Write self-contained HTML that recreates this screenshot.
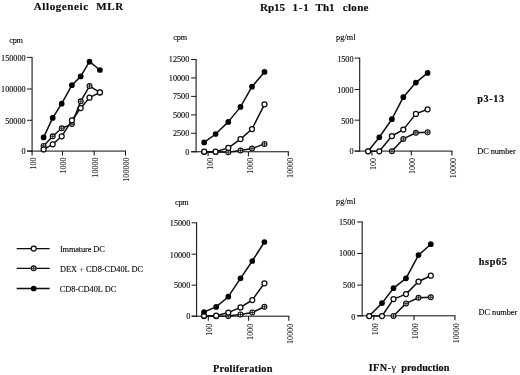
<!DOCTYPE html>
<html><head><meta charset="utf-8"><title>Figure</title>
<style>
html,body{margin:0;padding:0;background:#fff;}
body{width:520px;height:375px;overflow:hidden;}
svg{display:block;}
svg text{font-family:'Liberation Serif',serif;}
</style></head>
<body>
<svg width="520" height="375" viewBox="0 0 520 375">
<defs><filter id="b" x="0" y="0" width="520" height="375" filterUnits="userSpaceOnUse"><feGaussianBlur stdDeviation="0.25"/></filter></defs>
<rect x="0" y="0" width="520" height="375" fill="#ffffff"/>
<g filter="url(#b)">
<line x1="32.1" y1="56.9" x2="32.1" y2="151.6" stroke="#0d0d0d" stroke-width="1.05"/>
<line x1="27.1" y1="57.4" x2="32.1" y2="57.4" stroke="#0d0d0d" stroke-width="0.95"/>
<text x="25.6" y="60.7" text-anchor="end" style="font-size:8.2px;stroke:#0a0a0a;stroke-width:0.12px;" fill="#0a0a0a" xml:space="preserve">150000</text>
<line x1="27.1" y1="89" x2="32.1" y2="89" stroke="#0d0d0d" stroke-width="0.95"/>
<text x="25.6" y="92.3" text-anchor="end" style="font-size:8.2px;stroke:#0a0a0a;stroke-width:0.12px;" fill="#0a0a0a" xml:space="preserve">100000</text>
<line x1="27.1" y1="120.3" x2="32.1" y2="120.3" stroke="#0d0d0d" stroke-width="0.95"/>
<text x="25.6" y="123.6" text-anchor="end" style="font-size:8.2px;stroke:#0a0a0a;stroke-width:0.12px;" fill="#0a0a0a" xml:space="preserve">50000</text>
<line x1="27.1" y1="151.1" x2="32.1" y2="151.1" stroke="#0d0d0d" stroke-width="0.95"/>
<text x="25.6" y="154.4" text-anchor="end" style="font-size:8.2px;stroke:#0a0a0a;stroke-width:0.12px;" fill="#0a0a0a" xml:space="preserve">0</text>
<line x1="27.1" y1="151.1" x2="126.0" y2="151.1" stroke="#0d0d0d" stroke-width="1.0"/>
<line x1="32.1" y1="151.1" x2="32.1" y2="155.6" stroke="#0d0d0d" stroke-width="1.05"/>
<text transform="translate(36,157.4) rotate(-90) scale(1,0.93)" text-anchor="end" style="font-size:8.1px;stroke:#0a0a0a;stroke-width:0.1px;" fill="#0a0a0a" xml:space="preserve">100</text>
<line x1="62.5" y1="151.1" x2="62.5" y2="155.6" stroke="#0d0d0d" stroke-width="1.05"/>
<text transform="translate(66.4,157.4) rotate(-90) scale(1,0.93)" text-anchor="end" style="font-size:8.1px;stroke:#0a0a0a;stroke-width:0.1px;" fill="#0a0a0a" xml:space="preserve">1000</text>
<line x1="94.2" y1="151.1" x2="94.2" y2="155.6" stroke="#0d0d0d" stroke-width="1.05"/>
<text transform="translate(98.1,157.4) rotate(-90) scale(1,0.93)" text-anchor="end" style="font-size:8.1px;stroke:#0a0a0a;stroke-width:0.1px;" fill="#0a0a0a" xml:space="preserve">10000</text>
<line x1="125.5" y1="151.1" x2="125.5" y2="155.6" stroke="#0d0d0d" stroke-width="1.05"/>
<text transform="translate(129.4,157.4) rotate(-90) scale(1,0.93)" text-anchor="end" style="font-size:8.1px;stroke:#0a0a0a;stroke-width:0.1px;" fill="#0a0a0a" xml:space="preserve">100000</text>
<text x="9.3" y="42.7" textLength="13.6" lengthAdjust="spacing" text-anchor="start" style="font-size:8.2px;stroke:#0a0a0a;stroke-width:0.12px;" fill="#0a0a0a" xml:space="preserve">cpm</text>
<polyline points="43.6,145.9 52.7,136.3 61.7,128.3 71.9,124.1 80.7,101.3 89.5,86.1 99.9,92.4" fill="none" stroke="#111" stroke-width="1.5" stroke-linejoin="round"/>
<circle cx="43.6" cy="145.9" r="2.45" fill="#e6e6e6" stroke="#0c0c0c" stroke-width="1.1"/>
<line x1="41.15" y1="145.9" x2="46.05" y2="145.9" stroke="#222" stroke-width="0.9"/>
<line x1="43.6" y1="143.45" x2="43.6" y2="148.35" stroke="#222" stroke-width="0.9"/>
<circle cx="52.7" cy="136.3" r="2.45" fill="#e6e6e6" stroke="#0c0c0c" stroke-width="1.1"/>
<line x1="50.25" y1="136.3" x2="55.15" y2="136.3" stroke="#222" stroke-width="0.9"/>
<line x1="52.7" y1="133.85" x2="52.7" y2="138.75" stroke="#222" stroke-width="0.9"/>
<circle cx="61.7" cy="128.3" r="2.45" fill="#e6e6e6" stroke="#0c0c0c" stroke-width="1.1"/>
<line x1="59.25" y1="128.3" x2="64.15" y2="128.3" stroke="#222" stroke-width="0.9"/>
<line x1="61.7" y1="125.85" x2="61.7" y2="130.75" stroke="#222" stroke-width="0.9"/>
<circle cx="71.9" cy="124.1" r="2.45" fill="#e6e6e6" stroke="#0c0c0c" stroke-width="1.1"/>
<line x1="69.45" y1="124.1" x2="74.35" y2="124.1" stroke="#222" stroke-width="0.9"/>
<line x1="71.9" y1="121.65" x2="71.9" y2="126.55" stroke="#222" stroke-width="0.9"/>
<circle cx="80.7" cy="101.3" r="2.45" fill="#e6e6e6" stroke="#0c0c0c" stroke-width="1.1"/>
<line x1="78.25" y1="101.3" x2="83.15" y2="101.3" stroke="#222" stroke-width="0.9"/>
<line x1="80.7" y1="98.85" x2="80.7" y2="103.75" stroke="#222" stroke-width="0.9"/>
<circle cx="89.5" cy="86.1" r="2.45" fill="#e6e6e6" stroke="#0c0c0c" stroke-width="1.1"/>
<line x1="87.05" y1="86.1" x2="91.95" y2="86.1" stroke="#222" stroke-width="0.9"/>
<line x1="89.5" y1="83.65" x2="89.5" y2="88.55" stroke="#222" stroke-width="0.9"/>
<circle cx="99.9" cy="92.4" r="2.45" fill="#e6e6e6" stroke="#0c0c0c" stroke-width="1.1"/>
<line x1="97.45" y1="92.4" x2="102.35" y2="92.4" stroke="#222" stroke-width="0.9"/>
<line x1="99.9" y1="89.95" x2="99.9" y2="94.85" stroke="#222" stroke-width="0.9"/>
<polyline points="43.6,149.4 52.7,144.3 61.7,136.3 71.9,120.3 80.7,108 89.5,97.7 99.9,92.4" fill="none" stroke="#111" stroke-width="1.5" stroke-linejoin="round"/>
<circle cx="43.6" cy="149.4" r="2.5" fill="#fff" stroke="#0a0a0a" stroke-width="1.25"/>
<circle cx="52.7" cy="144.3" r="2.5" fill="#fff" stroke="#0a0a0a" stroke-width="1.25"/>
<circle cx="61.7" cy="136.3" r="2.5" fill="#fff" stroke="#0a0a0a" stroke-width="1.25"/>
<circle cx="71.9" cy="120.3" r="2.5" fill="#fff" stroke="#0a0a0a" stroke-width="1.25"/>
<circle cx="80.7" cy="108" r="2.5" fill="#fff" stroke="#0a0a0a" stroke-width="1.25"/>
<circle cx="89.5" cy="97.7" r="2.5" fill="#fff" stroke="#0a0a0a" stroke-width="1.25"/>
<circle cx="99.9" cy="92.4" r="2.5" fill="#fff" stroke="#0a0a0a" stroke-width="1.25"/>
<polyline points="43.6,137.4 52.7,117.9 61.7,103.7 71.9,85.2 80.7,76.4 89.5,61.7 99.9,70" fill="none" stroke="#111" stroke-width="1.5" stroke-linejoin="round"/>
<circle cx="43.6" cy="137.4" r="2.85" fill="#050505"/>
<circle cx="52.7" cy="117.9" r="2.85" fill="#050505"/>
<circle cx="61.7" cy="103.7" r="2.85" fill="#050505"/>
<circle cx="71.9" cy="85.2" r="2.85" fill="#050505"/>
<circle cx="80.7" cy="76.4" r="2.85" fill="#050505"/>
<circle cx="89.5" cy="61.7" r="2.85" fill="#050505"/>
<circle cx="99.9" cy="70" r="2.85" fill="#050505"/>
<line x1="196.1" y1="59.0" x2="196.1" y2="152.25" stroke="#0d0d0d" stroke-width="1.05"/>
<line x1="191.1" y1="59.5" x2="196.1" y2="59.5" stroke="#0d0d0d" stroke-width="0.95"/>
<text x="189.3" y="62.4" text-anchor="end" style="font-size:8.2px;stroke:#0a0a0a;stroke-width:0.12px;" fill="#0a0a0a" xml:space="preserve">12500</text>
<line x1="191.1" y1="77.95" x2="196.1" y2="77.95" stroke="#0d0d0d" stroke-width="0.95"/>
<text x="189.3" y="80.85" text-anchor="end" style="font-size:8.2px;stroke:#0a0a0a;stroke-width:0.12px;" fill="#0a0a0a" xml:space="preserve">10000</text>
<line x1="191.1" y1="96.4" x2="196.1" y2="96.4" stroke="#0d0d0d" stroke-width="0.95"/>
<text x="189.3" y="99.3" text-anchor="end" style="font-size:8.2px;stroke:#0a0a0a;stroke-width:0.12px;" fill="#0a0a0a" xml:space="preserve">7500</text>
<line x1="191.1" y1="114.85" x2="196.1" y2="114.85" stroke="#0d0d0d" stroke-width="0.95"/>
<text x="189.3" y="117.75" text-anchor="end" style="font-size:8.2px;stroke:#0a0a0a;stroke-width:0.12px;" fill="#0a0a0a" xml:space="preserve">5000</text>
<line x1="191.1" y1="133.3" x2="196.1" y2="133.3" stroke="#0d0d0d" stroke-width="0.95"/>
<text x="189.3" y="136.2" text-anchor="end" style="font-size:8.2px;stroke:#0a0a0a;stroke-width:0.12px;" fill="#0a0a0a" xml:space="preserve">2500</text>
<line x1="191.1" y1="151.75" x2="196.1" y2="151.75" stroke="#0d0d0d" stroke-width="0.95"/>
<text x="189.3" y="154.65" text-anchor="end" style="font-size:8.2px;stroke:#0a0a0a;stroke-width:0.12px;" fill="#0a0a0a" xml:space="preserve">0</text>
<line x1="191.1" y1="151.75" x2="288.8" y2="151.75" stroke="#0d0d0d" stroke-width="1.0"/>
<line x1="208.1" y1="151.75" x2="208.1" y2="156.25" stroke="#0d0d0d" stroke-width="1.05"/>
<text transform="translate(212.8,157.65) rotate(-90) scale(1,0.93)" text-anchor="end" style="font-size:8.1px;stroke:#0a0a0a;stroke-width:0.1px;" fill="#0a0a0a" xml:space="preserve">100</text>
<line x1="248.4" y1="151.75" x2="248.4" y2="156.25" stroke="#0d0d0d" stroke-width="1.05"/>
<text transform="translate(253.1,157.65) rotate(-90) scale(1,0.93)" text-anchor="end" style="font-size:8.1px;stroke:#0a0a0a;stroke-width:0.1px;" fill="#0a0a0a" xml:space="preserve">1000</text>
<line x1="288.3" y1="151.75" x2="288.3" y2="156.25" stroke="#0d0d0d" stroke-width="1.05"/>
<text transform="translate(293.0,157.65) rotate(-90) scale(1,0.93)" text-anchor="end" style="font-size:8.1px;stroke:#0a0a0a;stroke-width:0.1px;" fill="#0a0a0a" xml:space="preserve">10000</text>
<text x="173.2" y="39.7" textLength="13.8" lengthAdjust="spacing" text-anchor="start" style="font-size:8.2px;stroke:#0a0a0a;stroke-width:0.12px;" fill="#0a0a0a" xml:space="preserve">cpm</text>
<polyline points="204.2,152 215.6,152 228.3,152.2 240.5,150.6 252,148.6 264.5,143.9" fill="none" stroke="#111" stroke-width="1.5" stroke-linejoin="round"/>
<circle cx="204.2" cy="152" r="2.45" fill="#e6e6e6" stroke="#0c0c0c" stroke-width="1.1"/>
<line x1="201.75" y1="152" x2="206.65" y2="152" stroke="#222" stroke-width="0.9"/>
<line x1="204.2" y1="149.55" x2="204.2" y2="154.45" stroke="#222" stroke-width="0.9"/>
<circle cx="215.6" cy="152" r="2.45" fill="#e6e6e6" stroke="#0c0c0c" stroke-width="1.1"/>
<line x1="213.15" y1="152" x2="218.05" y2="152" stroke="#222" stroke-width="0.9"/>
<line x1="215.6" y1="149.55" x2="215.6" y2="154.45" stroke="#222" stroke-width="0.9"/>
<circle cx="228.3" cy="152.2" r="2.45" fill="#e6e6e6" stroke="#0c0c0c" stroke-width="1.1"/>
<line x1="225.85" y1="152.2" x2="230.75" y2="152.2" stroke="#222" stroke-width="0.9"/>
<line x1="228.3" y1="149.75" x2="228.3" y2="154.65" stroke="#222" stroke-width="0.9"/>
<circle cx="240.5" cy="150.6" r="2.45" fill="#e6e6e6" stroke="#0c0c0c" stroke-width="1.1"/>
<line x1="238.05" y1="150.6" x2="242.95" y2="150.6" stroke="#222" stroke-width="0.9"/>
<line x1="240.5" y1="148.15" x2="240.5" y2="153.05" stroke="#222" stroke-width="0.9"/>
<circle cx="252" cy="148.6" r="2.45" fill="#e6e6e6" stroke="#0c0c0c" stroke-width="1.1"/>
<line x1="249.55" y1="148.6" x2="254.45" y2="148.6" stroke="#222" stroke-width="0.9"/>
<line x1="252" y1="146.15" x2="252" y2="151.05" stroke="#222" stroke-width="0.9"/>
<circle cx="264.5" cy="143.9" r="2.45" fill="#e6e6e6" stroke="#0c0c0c" stroke-width="1.1"/>
<line x1="262.05" y1="143.9" x2="266.95" y2="143.9" stroke="#222" stroke-width="0.9"/>
<line x1="264.5" y1="141.45" x2="264.5" y2="146.35" stroke="#222" stroke-width="0.9"/>
<polyline points="204.2,151.7 215.6,151.7 228.3,147.9 240.5,139.1 252,129 264.5,104.3" fill="none" stroke="#111" stroke-width="1.5" stroke-linejoin="round"/>
<circle cx="204.2" cy="151.7" r="2.5" fill="#fff" stroke="#0a0a0a" stroke-width="1.25"/>
<circle cx="215.6" cy="151.7" r="2.5" fill="#fff" stroke="#0a0a0a" stroke-width="1.25"/>
<circle cx="228.3" cy="147.9" r="2.5" fill="#fff" stroke="#0a0a0a" stroke-width="1.25"/>
<circle cx="240.5" cy="139.1" r="2.5" fill="#fff" stroke="#0a0a0a" stroke-width="1.25"/>
<circle cx="252" cy="129" r="2.5" fill="#fff" stroke="#0a0a0a" stroke-width="1.25"/>
<circle cx="264.5" cy="104.3" r="2.5" fill="#fff" stroke="#0a0a0a" stroke-width="1.25"/>
<polyline points="204.2,142.4 215.6,134 228.3,121.9 240.5,106.9 252,86.7 264.5,71.9" fill="none" stroke="#111" stroke-width="1.5" stroke-linejoin="round"/>
<circle cx="204.2" cy="142.4" r="2.85" fill="#050505"/>
<circle cx="215.6" cy="134" r="2.85" fill="#050505"/>
<circle cx="228.3" cy="121.9" r="2.85" fill="#050505"/>
<circle cx="240.5" cy="106.9" r="2.85" fill="#050505"/>
<circle cx="252" cy="86.7" r="2.85" fill="#050505"/>
<circle cx="264.5" cy="71.9" r="2.85" fill="#050505"/>
<line x1="359.7" y1="57.6" x2="359.7" y2="151.6" stroke="#0d0d0d" stroke-width="1.05"/>
<line x1="354.7" y1="58.1" x2="359.7" y2="58.1" stroke="#0d0d0d" stroke-width="0.95"/>
<text x="353.5" y="61.9" text-anchor="end" style="font-size:8.2px;stroke:#0a0a0a;stroke-width:0.12px;" fill="#0a0a0a" xml:space="preserve">1500</text>
<line x1="354.7" y1="89.5" x2="359.7" y2="89.5" stroke="#0d0d0d" stroke-width="0.95"/>
<text x="353.5" y="92.5" text-anchor="end" style="font-size:8.2px;stroke:#0a0a0a;stroke-width:0.12px;" fill="#0a0a0a" xml:space="preserve">1000</text>
<line x1="354.7" y1="120.2" x2="359.7" y2="120.2" stroke="#0d0d0d" stroke-width="0.95"/>
<text x="353.5" y="123.7" text-anchor="end" style="font-size:8.2px;stroke:#0a0a0a;stroke-width:0.12px;" fill="#0a0a0a" xml:space="preserve">500</text>
<line x1="354.7" y1="151.1" x2="359.7" y2="151.1" stroke="#0d0d0d" stroke-width="0.95"/>
<text x="353.5" y="154.3" text-anchor="end" style="font-size:8.2px;stroke:#0a0a0a;stroke-width:0.12px;" fill="#0a0a0a" xml:space="preserve">0</text>
<line x1="354.7" y1="151.1" x2="452.4" y2="151.1" stroke="#0d0d0d" stroke-width="1.0"/>
<line x1="371.9" y1="151.1" x2="371.9" y2="155.6" stroke="#0d0d0d" stroke-width="1.05"/>
<text transform="translate(375.5,157.9) rotate(-90) scale(1,0.93)" text-anchor="end" style="font-size:8.1px;stroke:#0a0a0a;stroke-width:0.1px;" fill="#0a0a0a" xml:space="preserve">100</text>
<line x1="411.3" y1="151.1" x2="411.3" y2="155.6" stroke="#0d0d0d" stroke-width="1.05"/>
<text transform="translate(414.9,157.9) rotate(-90) scale(1,0.93)" text-anchor="end" style="font-size:8.1px;stroke:#0a0a0a;stroke-width:0.1px;" fill="#0a0a0a" xml:space="preserve">1000</text>
<line x1="451.9" y1="151.1" x2="451.9" y2="155.6" stroke="#0d0d0d" stroke-width="1.05"/>
<text transform="translate(455.5,157.9) rotate(-90) scale(1,0.93)" text-anchor="end" style="font-size:8.1px;stroke:#0a0a0a;stroke-width:0.1px;" fill="#0a0a0a" xml:space="preserve">10000</text>
<text x="336" y="39.7" textLength="19.6" lengthAdjust="spacing" text-anchor="start" style="font-size:8.2px;stroke:#0a0a0a;stroke-width:0.12px;" fill="#0a0a0a" xml:space="preserve">pg/ml</text>
<polyline points="368.1,151.3 379.3,137.3 391.9,119.2 403.3,97.2 415.9,82.6 427.6,72.9" fill="none" stroke="#111" stroke-width="1.5" stroke-linejoin="round"/>
<circle cx="368.1" cy="151.3" r="2.85" fill="#050505"/>
<circle cx="379.3" cy="137.3" r="2.85" fill="#050505"/>
<circle cx="391.9" cy="119.2" r="2.85" fill="#050505"/>
<circle cx="403.3" cy="97.2" r="2.85" fill="#050505"/>
<circle cx="415.9" cy="82.6" r="2.85" fill="#050505"/>
<circle cx="427.6" cy="72.9" r="2.85" fill="#050505"/>
<polyline points="391.9,151.3 403.3,138.9 415.9,132.8 427.6,132.2" fill="none" stroke="#111" stroke-width="1.5" stroke-linejoin="round"/>
<circle cx="391.9" cy="151.3" r="2.45" fill="#e6e6e6" stroke="#0c0c0c" stroke-width="1.1"/>
<line x1="389.45" y1="151.3" x2="394.35" y2="151.3" stroke="#222" stroke-width="0.9"/>
<line x1="391.9" y1="148.85" x2="391.9" y2="153.75" stroke="#222" stroke-width="0.9"/>
<circle cx="403.3" cy="138.9" r="2.45" fill="#e6e6e6" stroke="#0c0c0c" stroke-width="1.1"/>
<line x1="400.85" y1="138.9" x2="405.75" y2="138.9" stroke="#222" stroke-width="0.9"/>
<line x1="403.3" y1="136.45" x2="403.3" y2="141.35" stroke="#222" stroke-width="0.9"/>
<circle cx="415.9" cy="132.8" r="2.45" fill="#e6e6e6" stroke="#0c0c0c" stroke-width="1.1"/>
<line x1="413.45" y1="132.8" x2="418.35" y2="132.8" stroke="#222" stroke-width="0.9"/>
<line x1="415.9" y1="130.35" x2="415.9" y2="135.25" stroke="#222" stroke-width="0.9"/>
<circle cx="427.6" cy="132.2" r="2.45" fill="#e6e6e6" stroke="#0c0c0c" stroke-width="1.1"/>
<line x1="425.15" y1="132.2" x2="430.05" y2="132.2" stroke="#222" stroke-width="0.9"/>
<line x1="427.6" y1="129.75" x2="427.6" y2="134.65" stroke="#222" stroke-width="0.9"/>
<polyline points="368.1,151.3 379.3,151.3 391.9,136 403.3,129.6 415.9,113.9 427.6,109.3" fill="none" stroke="#111" stroke-width="1.5" stroke-linejoin="round"/>
<circle cx="368.1" cy="151.3" r="2.5" fill="#fff" stroke="#0a0a0a" stroke-width="1.25"/>
<circle cx="379.3" cy="151.3" r="2.5" fill="#fff" stroke="#0a0a0a" stroke-width="1.25"/>
<circle cx="391.9" cy="136" r="2.5" fill="#fff" stroke="#0a0a0a" stroke-width="1.25"/>
<circle cx="403.3" cy="129.6" r="2.5" fill="#fff" stroke="#0a0a0a" stroke-width="1.25"/>
<circle cx="415.9" cy="113.9" r="2.5" fill="#fff" stroke="#0a0a0a" stroke-width="1.25"/>
<circle cx="427.6" cy="109.3" r="2.5" fill="#fff" stroke="#0a0a0a" stroke-width="1.25"/>
<line x1="196.6" y1="222.3" x2="196.6" y2="316.7" stroke="#0d0d0d" stroke-width="1.05"/>
<line x1="191.6" y1="222.8" x2="196.6" y2="222.8" stroke="#0d0d0d" stroke-width="0.95"/>
<text x="190.3" y="225.9" text-anchor="end" style="font-size:8.2px;stroke:#0a0a0a;stroke-width:0.12px;" fill="#0a0a0a" xml:space="preserve">15000</text>
<line x1="191.6" y1="254.2" x2="196.6" y2="254.2" stroke="#0d0d0d" stroke-width="0.95"/>
<text x="190.3" y="257.5" text-anchor="end" style="font-size:8.2px;stroke:#0a0a0a;stroke-width:0.12px;" fill="#0a0a0a" xml:space="preserve">10000</text>
<line x1="191.6" y1="285.2" x2="196.6" y2="285.2" stroke="#0d0d0d" stroke-width="0.95"/>
<text x="190.3" y="288.4" text-anchor="end" style="font-size:8.2px;stroke:#0a0a0a;stroke-width:0.12px;" fill="#0a0a0a" xml:space="preserve">5000</text>
<line x1="191.6" y1="316.2" x2="196.6" y2="316.2" stroke="#0d0d0d" stroke-width="0.95"/>
<text x="190.3" y="319.2" text-anchor="end" style="font-size:8.2px;stroke:#0a0a0a;stroke-width:0.12px;" fill="#0a0a0a" xml:space="preserve">0</text>
<line x1="191.6" y1="316.2" x2="289.3" y2="316.2" stroke="#0d0d0d" stroke-width="1.0"/>
<line x1="208.3" y1="316.2" x2="208.3" y2="320.7" stroke="#0d0d0d" stroke-width="1.05"/>
<text transform="translate(212.2,323.7) rotate(-90) scale(1,0.93)" text-anchor="end" style="font-size:8.1px;stroke:#0a0a0a;stroke-width:0.1px;" fill="#0a0a0a" xml:space="preserve">100</text>
<line x1="248.6" y1="316.2" x2="248.6" y2="320.7" stroke="#0d0d0d" stroke-width="1.05"/>
<text transform="translate(252.5,323.7) rotate(-90) scale(1,0.93)" text-anchor="end" style="font-size:8.1px;stroke:#0a0a0a;stroke-width:0.1px;" fill="#0a0a0a" xml:space="preserve">1000</text>
<line x1="288.8" y1="316.2" x2="288.8" y2="320.7" stroke="#0d0d0d" stroke-width="1.05"/>
<text transform="translate(292.7,323.7) rotate(-90) scale(1,0.93)" text-anchor="end" style="font-size:8.1px;stroke:#0a0a0a;stroke-width:0.1px;" fill="#0a0a0a" xml:space="preserve">10000</text>
<text x="175" y="204.7" textLength="13.6" lengthAdjust="spacing" text-anchor="start" style="font-size:8.2px;stroke:#0a0a0a;stroke-width:0.12px;" fill="#0a0a0a" xml:space="preserve">cpm</text>
<polyline points="204,316.2 216.2,316.2 228.3,316.1 240.5,314.5 252.3,312.5 264.4,306.7" fill="none" stroke="#111" stroke-width="1.5" stroke-linejoin="round"/>
<circle cx="204" cy="316.2" r="2.45" fill="#e6e6e6" stroke="#0c0c0c" stroke-width="1.1"/>
<line x1="201.55" y1="316.2" x2="206.45" y2="316.2" stroke="#222" stroke-width="0.9"/>
<line x1="204" y1="313.75" x2="204" y2="318.65" stroke="#222" stroke-width="0.9"/>
<circle cx="216.2" cy="316.2" r="2.45" fill="#e6e6e6" stroke="#0c0c0c" stroke-width="1.1"/>
<line x1="213.75" y1="316.2" x2="218.65" y2="316.2" stroke="#222" stroke-width="0.9"/>
<line x1="216.2" y1="313.75" x2="216.2" y2="318.65" stroke="#222" stroke-width="0.9"/>
<circle cx="228.3" cy="316.1" r="2.45" fill="#e6e6e6" stroke="#0c0c0c" stroke-width="1.1"/>
<line x1="225.85" y1="316.1" x2="230.75" y2="316.1" stroke="#222" stroke-width="0.9"/>
<line x1="228.3" y1="313.65" x2="228.3" y2="318.55" stroke="#222" stroke-width="0.9"/>
<circle cx="240.5" cy="314.5" r="2.45" fill="#e6e6e6" stroke="#0c0c0c" stroke-width="1.1"/>
<line x1="238.05" y1="314.5" x2="242.95" y2="314.5" stroke="#222" stroke-width="0.9"/>
<line x1="240.5" y1="312.05" x2="240.5" y2="316.95" stroke="#222" stroke-width="0.9"/>
<circle cx="252.3" cy="312.5" r="2.45" fill="#e6e6e6" stroke="#0c0c0c" stroke-width="1.1"/>
<line x1="249.85" y1="312.5" x2="254.75" y2="312.5" stroke="#222" stroke-width="0.9"/>
<line x1="252.3" y1="310.05" x2="252.3" y2="314.95" stroke="#222" stroke-width="0.9"/>
<circle cx="264.4" cy="306.7" r="2.45" fill="#e6e6e6" stroke="#0c0c0c" stroke-width="1.1"/>
<line x1="261.95" y1="306.7" x2="266.85" y2="306.7" stroke="#222" stroke-width="0.9"/>
<line x1="264.4" y1="304.25" x2="264.4" y2="309.15" stroke="#222" stroke-width="0.9"/>
<polyline points="204,315.7 216.2,315.7 228.3,312.6 240.5,307.4 252.3,300 264.4,283.3" fill="none" stroke="#111" stroke-width="1.5" stroke-linejoin="round"/>
<circle cx="204" cy="315.7" r="2.5" fill="#fff" stroke="#0a0a0a" stroke-width="1.25"/>
<circle cx="216.2" cy="315.7" r="2.5" fill="#fff" stroke="#0a0a0a" stroke-width="1.25"/>
<circle cx="228.3" cy="312.6" r="2.5" fill="#fff" stroke="#0a0a0a" stroke-width="1.25"/>
<circle cx="240.5" cy="307.4" r="2.5" fill="#fff" stroke="#0a0a0a" stroke-width="1.25"/>
<circle cx="252.3" cy="300" r="2.5" fill="#fff" stroke="#0a0a0a" stroke-width="1.25"/>
<circle cx="264.4" cy="283.3" r="2.5" fill="#fff" stroke="#0a0a0a" stroke-width="1.25"/>
<polyline points="204,312 216.2,306.9 228.3,296.7 240.5,278.3 252.3,261 264.4,242" fill="none" stroke="#111" stroke-width="1.5" stroke-linejoin="round"/>
<circle cx="204" cy="312" r="2.85" fill="#050505"/>
<circle cx="216.2" cy="306.9" r="2.85" fill="#050505"/>
<circle cx="228.3" cy="296.7" r="2.85" fill="#050505"/>
<circle cx="240.5" cy="278.3" r="2.85" fill="#050505"/>
<circle cx="252.3" cy="261" r="2.85" fill="#050505"/>
<circle cx="264.4" cy="242" r="2.85" fill="#050505"/>
<line x1="362.2" y1="221.5" x2="362.2" y2="316.3" stroke="#0d0d0d" stroke-width="1.05"/>
<line x1="357.2" y1="222" x2="362.2" y2="222" stroke="#0d0d0d" stroke-width="0.95"/>
<text x="355.4" y="224.9" text-anchor="end" style="font-size:8.2px;stroke:#0a0a0a;stroke-width:0.12px;" fill="#0a0a0a" xml:space="preserve">1500</text>
<line x1="357.2" y1="253.5" x2="362.2" y2="253.5" stroke="#0d0d0d" stroke-width="0.95"/>
<text x="355.4" y="256.3" text-anchor="end" style="font-size:8.2px;stroke:#0a0a0a;stroke-width:0.12px;" fill="#0a0a0a" xml:space="preserve">1000</text>
<line x1="357.2" y1="285.1" x2="362.2" y2="285.1" stroke="#0d0d0d" stroke-width="0.95"/>
<text x="355.4" y="288.0" text-anchor="end" style="font-size:8.2px;stroke:#0a0a0a;stroke-width:0.12px;" fill="#0a0a0a" xml:space="preserve">500</text>
<line x1="357.2" y1="315.8" x2="362.2" y2="315.8" stroke="#0d0d0d" stroke-width="0.95"/>
<text x="355.4" y="319.5" text-anchor="end" style="font-size:8.2px;stroke:#0a0a0a;stroke-width:0.12px;" fill="#0a0a0a" xml:space="preserve">0</text>
<line x1="357.2" y1="315.8" x2="455.4" y2="315.8" stroke="#0d0d0d" stroke-width="1.0"/>
<line x1="373.8" y1="315.8" x2="373.8" y2="320.3" stroke="#0d0d0d" stroke-width="1.05"/>
<text transform="translate(378.1,323.1) rotate(-90) scale(1,0.93)" text-anchor="end" style="font-size:8.1px;stroke:#0a0a0a;stroke-width:0.1px;" fill="#0a0a0a" xml:space="preserve">100</text>
<line x1="414" y1="315.8" x2="414" y2="320.3" stroke="#0d0d0d" stroke-width="1.05"/>
<text transform="translate(418.3,323.1) rotate(-90) scale(1,0.93)" text-anchor="end" style="font-size:8.1px;stroke:#0a0a0a;stroke-width:0.1px;" fill="#0a0a0a" xml:space="preserve">1000</text>
<line x1="454.9" y1="315.8" x2="454.9" y2="320.3" stroke="#0d0d0d" stroke-width="1.05"/>
<text transform="translate(459.2,323.1) rotate(-90) scale(1,0.93)" text-anchor="end" style="font-size:8.1px;stroke:#0a0a0a;stroke-width:0.1px;" fill="#0a0a0a" xml:space="preserve">10000</text>
<text x="336" y="204.3" textLength="19.6" lengthAdjust="spacing" text-anchor="start" style="font-size:8.2px;stroke:#0a0a0a;stroke-width:0.12px;" fill="#0a0a0a" xml:space="preserve">pg/ml</text>
<polyline points="369.2,316 382,303.1 393.5,288.2 406,278.3 418.5,255.1 430.8,244.2" fill="none" stroke="#111" stroke-width="1.5" stroke-linejoin="round"/>
<circle cx="369.2" cy="316" r="2.85" fill="#050505"/>
<circle cx="382" cy="303.1" r="2.85" fill="#050505"/>
<circle cx="393.5" cy="288.2" r="2.85" fill="#050505"/>
<circle cx="406" cy="278.3" r="2.85" fill="#050505"/>
<circle cx="418.5" cy="255.1" r="2.85" fill="#050505"/>
<circle cx="430.8" cy="244.2" r="2.85" fill="#050505"/>
<polyline points="393.5,316 406,303.4 418.5,297.8 430.8,297.3" fill="none" stroke="#111" stroke-width="1.5" stroke-linejoin="round"/>
<circle cx="393.5" cy="316" r="2.45" fill="#e6e6e6" stroke="#0c0c0c" stroke-width="1.1"/>
<line x1="391.05" y1="316" x2="395.95" y2="316" stroke="#222" stroke-width="0.9"/>
<line x1="393.5" y1="313.55" x2="393.5" y2="318.45" stroke="#222" stroke-width="0.9"/>
<circle cx="406" cy="303.4" r="2.45" fill="#e6e6e6" stroke="#0c0c0c" stroke-width="1.1"/>
<line x1="403.55" y1="303.4" x2="408.45" y2="303.4" stroke="#222" stroke-width="0.9"/>
<line x1="406" y1="300.95" x2="406" y2="305.85" stroke="#222" stroke-width="0.9"/>
<circle cx="418.5" cy="297.8" r="2.45" fill="#e6e6e6" stroke="#0c0c0c" stroke-width="1.1"/>
<line x1="416.05" y1="297.8" x2="420.95" y2="297.8" stroke="#222" stroke-width="0.9"/>
<line x1="418.5" y1="295.35" x2="418.5" y2="300.25" stroke="#222" stroke-width="0.9"/>
<circle cx="430.8" cy="297.3" r="2.45" fill="#e6e6e6" stroke="#0c0c0c" stroke-width="1.1"/>
<line x1="428.35" y1="297.3" x2="433.25" y2="297.3" stroke="#222" stroke-width="0.9"/>
<line x1="430.8" y1="294.85" x2="430.8" y2="299.75" stroke="#222" stroke-width="0.9"/>
<polyline points="369.2,316 382,316 393.5,299.1 406,294.1 418.5,281.5 430.8,275.7" fill="none" stroke="#111" stroke-width="1.5" stroke-linejoin="round"/>
<circle cx="369.2" cy="316" r="2.5" fill="#fff" stroke="#0a0a0a" stroke-width="1.25"/>
<circle cx="382" cy="316" r="2.5" fill="#fff" stroke="#0a0a0a" stroke-width="1.25"/>
<circle cx="393.5" cy="299.1" r="2.5" fill="#fff" stroke="#0a0a0a" stroke-width="1.25"/>
<circle cx="406" cy="294.1" r="2.5" fill="#fff" stroke="#0a0a0a" stroke-width="1.25"/>
<circle cx="418.5" cy="281.5" r="2.5" fill="#fff" stroke="#0a0a0a" stroke-width="1.25"/>
<circle cx="430.8" cy="275.7" r="2.5" fill="#fff" stroke="#0a0a0a" stroke-width="1.25"/>
<line x1="16.7" y1="248.6" x2="49.7" y2="248.6" stroke="#111" stroke-width="1.3"/>
<circle cx="33.7" cy="248.6" r="2.5" fill="#fff" stroke="#0a0a0a" stroke-width="1.25"/>
<line x1="16.7" y1="268.3" x2="49.7" y2="268.3" stroke="#111" stroke-width="1.3"/>
<circle cx="33.7" cy="268.3" r="2.45" fill="#e6e6e6" stroke="#0c0c0c" stroke-width="1.1"/>
<line x1="31.25" y1="268.3" x2="36.15" y2="268.3" stroke="#222" stroke-width="0.9"/>
<line x1="33.7" y1="265.85" x2="33.7" y2="270.75" stroke="#222" stroke-width="0.9"/>
<line x1="16.7" y1="288.5" x2="49.7" y2="288.5" stroke="#111" stroke-width="1.3"/>
<circle cx="33.7" cy="288.5" r="2.85" fill="#050505"/>
<text x="59.9" y="251.6" textLength="44.8" lengthAdjust="spacing" text-anchor="start" style="font-size:8.3px;stroke:#0a0a0a;stroke-width:0.12px;" fill="#0a0a0a" xml:space="preserve">Immature DC</text>
<text x="59.9" y="271.7" textLength="83.2" lengthAdjust="spacing" text-anchor="start" style="font-size:8.3px;stroke:#0a0a0a;stroke-width:0.12px;" fill="#0a0a0a" xml:space="preserve">DEX <tspan fill="#777">+</tspan> CD8-CD40L DC</text>
<text x="59.7" y="291.5" textLength="56.5" lengthAdjust="spacing" text-anchor="start" style="font-size:8.3px;stroke:#0a0a0a;stroke-width:0.12px;" fill="#0a0a0a" xml:space="preserve">CD8-CD40L DC</text>
<text x="33.75" y="9.75" textLength="54.4" lengthAdjust="spacing" text-anchor="start" style="font-size:11px;stroke:#0a0a0a;stroke-width:0.15px;font-weight:bold;" fill="#0a0a0a" xml:space="preserve">Allogeneic</text>
<text x="96.25" y="9.75" textLength="27" lengthAdjust="spacing" text-anchor="start" style="font-size:11px;stroke:#0a0a0a;stroke-width:0.15px;font-weight:bold;" fill="#0a0a0a" xml:space="preserve">MLR</text>
<text x="260.1" y="11.2" textLength="24.9" lengthAdjust="spacing" text-anchor="start" style="font-size:11px;stroke:#0a0a0a;stroke-width:0.15px;font-weight:bold;" fill="#0a0a0a" xml:space="preserve">Rp15</text>
<text x="292.6" y="11.2" textLength="16.2" lengthAdjust="spacing" text-anchor="start" style="font-size:11px;stroke:#0a0a0a;stroke-width:0.15px;font-weight:bold;" fill="#0a0a0a" xml:space="preserve">1-1</text>
<text x="315.5" y="11.2" textLength="19.1" lengthAdjust="spacing" text-anchor="start" style="font-size:11px;stroke:#0a0a0a;stroke-width:0.15px;font-weight:bold;" fill="#0a0a0a" xml:space="preserve">Th1</text>
<text x="342.7" y="11.2" textLength="25.8" lengthAdjust="spacing" text-anchor="start" style="font-size:11px;stroke:#0a0a0a;stroke-width:0.15px;font-weight:bold;" fill="#0a0a0a" xml:space="preserve">clone</text>
<text x="477.2" y="102.3" textLength="27" lengthAdjust="spacing" text-anchor="start" style="font-size:10.2px;stroke:#0a0a0a;stroke-width:0.15px;font-weight:bold;" fill="#0a0a0a" xml:space="preserve">p3-13</text>
<text x="478.85" y="264.7" textLength="27.9" lengthAdjust="spacing" text-anchor="start" style="font-size:10.2px;stroke:#0a0a0a;stroke-width:0.15px;font-weight:bold;" fill="#0a0a0a" xml:space="preserve">hsp65</text>
<text x="477.2" y="153.5" textLength="38.5" lengthAdjust="spacing" text-anchor="start" style="font-size:8.3px;stroke:#0a0a0a;stroke-width:0.12px;" fill="#0a0a0a" xml:space="preserve">DC number</text>
<text x="478.6" y="315.1" textLength="38.6" lengthAdjust="spacing" text-anchor="start" style="font-size:8.3px;stroke:#0a0a0a;stroke-width:0.12px;" fill="#0a0a0a" xml:space="preserve">DC number</text>
<text x="213" y="371.75" textLength="59.5" lengthAdjust="spacing" text-anchor="start" style="font-size:10.3px;stroke:#0a0a0a;stroke-width:0.15px;font-weight:bold;" fill="#0a0a0a" xml:space="preserve">Proliferation</text>
<text x="368.65" y="371.3" textLength="22.4" lengthAdjust="spacing" text-anchor="start" style="font-size:10.2px;stroke:#0a0a0a;stroke-width:0.15px;font-weight:bold;" fill="#0a0a0a" xml:space="preserve">IFN-</text>
<text x="391.6" y="371.3" text-anchor="start" style="font-size:10.2px;stroke:#0a0a0a;stroke-width:0.12px;" fill="#0a0a0a" xml:space="preserve">γ</text>
<text x="401.35" y="371.3" textLength="48" lengthAdjust="spacing" text-anchor="start" style="font-size:10.2px;stroke:#0a0a0a;stroke-width:0.15px;font-weight:bold;" fill="#0a0a0a" xml:space="preserve">production</text>
</g>
</svg>
</body></html>
